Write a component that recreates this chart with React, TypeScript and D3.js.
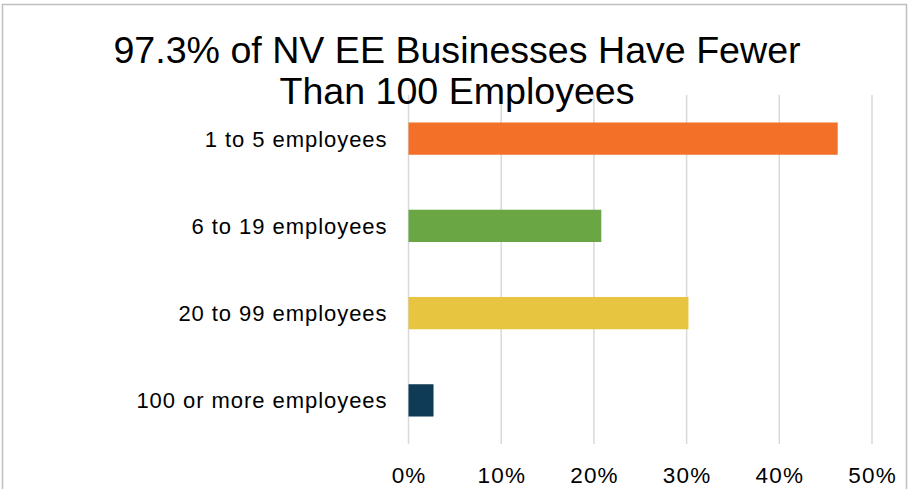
import React from "react";
import * as d3 from "d3";

const categories = ["1 to 5 employees", "6 to 19 employees", "20 to 99 employees", "100 or more employees"];
const values = [46.3, 20.8, 30.2, 2.7];
const colors = ["#F37029", "#6BA644", "#E8C540", "#0F3B57"];
const ticks = [0, 10, 20, 30, 40, 50];
const titleLines = ["97.3% of NV EE Businesses Have Fewer", "Than 100 Employees"];

const W = 909;
const H = 489;
const margin = { left: 408.5, right: 37, top: 95, bottom: 45 };

export default function App() {
  const x = d3.scaleLinear().domain([0, 50]).range([margin.left, W - margin.right]);
  const y = d3
    .scaleBand<string>()
    .domain(categories)
    .range([margin.top, H - margin.bottom])
    .paddingInner(0.63)
    .paddingOuter(0.315);
  const font = "'Liberation Sans', Arial, sans-serif";
  return (
    <svg
      width={W}
      height={H}
      style={{ position: "absolute", left: 0, top: 0, background: "#fff" }}
      fontFamily={font}
    >
      <rect x={2.5} y={4.5} width={904} height={H + 10} fill="#fff" stroke="#bfbfbf" strokeWidth={1.5} />
      {ticks.map((t) => (
        <line key={t} x1={x(t)} x2={x(t)} y1={margin.top} y2={H - margin.bottom} stroke="#d9d9d9" strokeWidth={1.5} />
      ))}
      {categories.map((c, i) => (
        <rect key={c} x={x(0)} y={y(c)} width={x(values[i]) - x(0)} height={y.bandwidth()} fill={colors[i]} />
      ))}
      {categories.map((c) => (
        <text
          key={c}
          x={387.5}
          y={(y(c) as number) + y.bandwidth() / 2}
          dy="0.36em"
          textAnchor="end"
          fontSize={22}
          letterSpacing={0.95}
          fill="#000"
        >
          {c}
        </text>
      ))}
      {ticks.map((t) => (
        <text key={t} x={x(t) + 0.6} y={482.5} textAnchor="middle" fontSize={22.5} letterSpacing={1.2} fill="#000">
          {t}%
        </text>
      ))}
      {titleLines.map((l, i) => (
        <text key={l} x={457} y={62.5 + i * 41} textAnchor="middle" fontSize={37.6} fill="#000">
          {l}
        </text>
      ))}
    </svg>
  );
}
